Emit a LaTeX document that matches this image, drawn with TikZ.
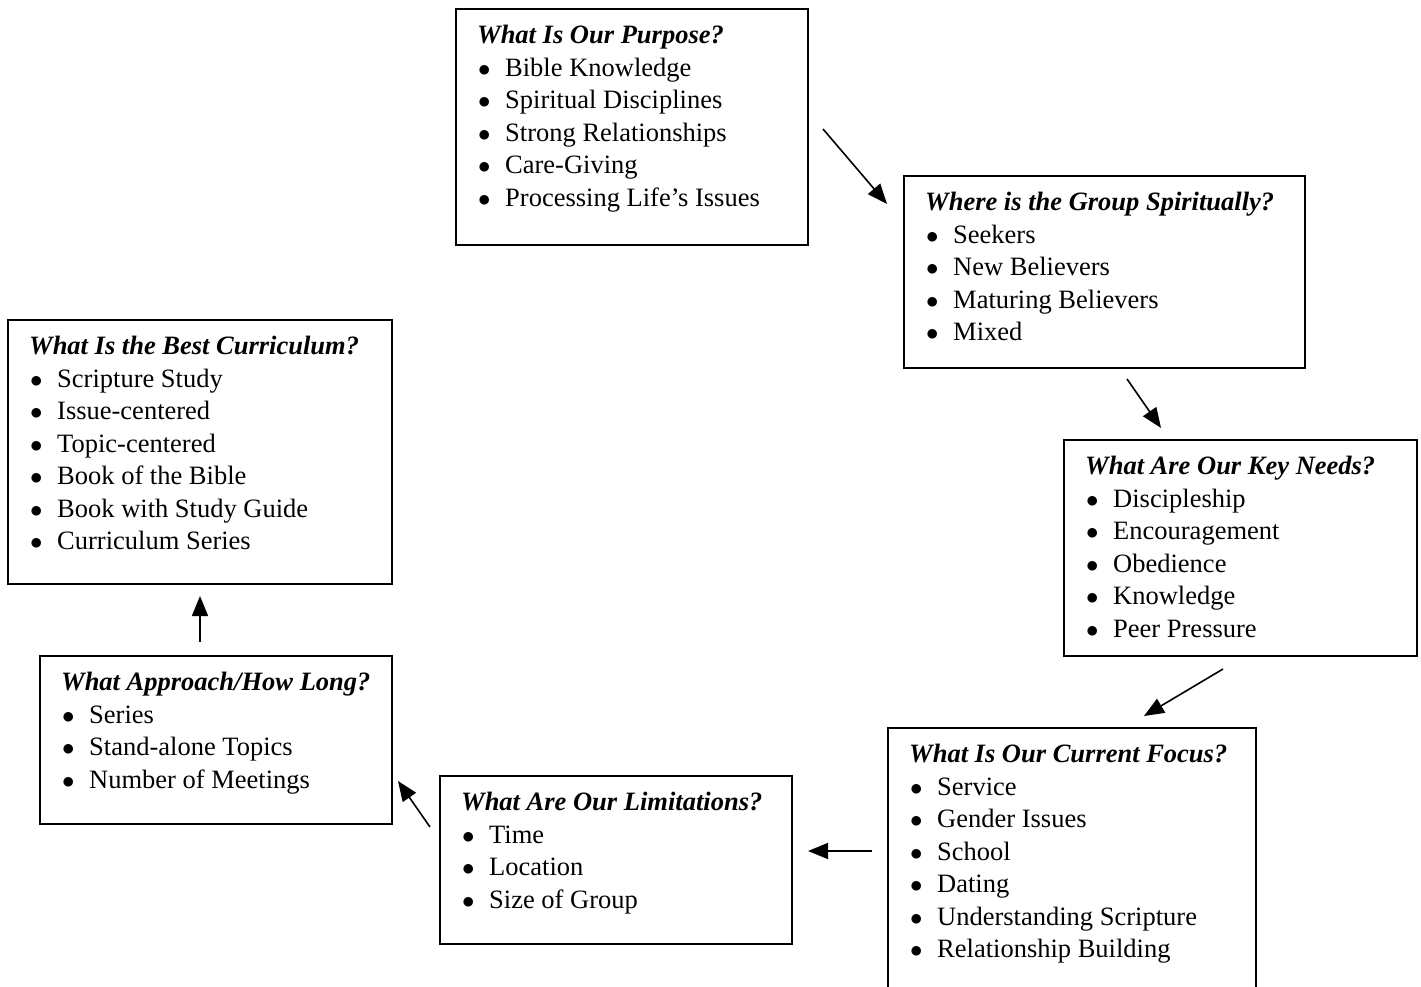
\documentclass[tikz,border=0pt]{standalone}
\usepackage{fontspec}
\setmainfont{Liberation Serif}
\usetikzlibrary{arrows.meta,positioning}

\newcommand{\qtitle}[1]{\strut\textbf{\textit{#1}}}
\newcommand{\itm}[1]{\hspace*{1pt}\makebox[27pt][l]{$\bullet$}#1}

\begin{document}
\begin{tikzpicture}[x=1pt,y=-1pt,
  qbox/.style={draw,line width=1.6pt,rectangle,anchor=north west,inner sep=0pt},
  qtxt/.style={align=left,inner sep=0pt,font=\fontsize{26.5}{32.5}\selectfont},
  flow/.style={line width=1.6pt,-{Triangle[length=20pt,width=16pt]}}]
 	\useasboundingbox (0,0) rectangle (1421,987);
 	% boxes
 	\node[qbox,minimum width=352pt,minimum height=236pt] (purpose) at (455,8) {};
 	\node[qbox,minimum width=401pt,minimum height=192pt] (spirit) at (903,175) {};
 	\node[qbox,minimum width=353pt,minimum height=216pt] (needs) at (1063,439) {};
 	\node[qbox,minimum width=368pt,minimum height=290pt] (focus) at (887,727) {};
 	\node[qbox,minimum width=352pt,minimum height=168pt] (limits) at (439,775) {};
 	\node[qbox,minimum width=352pt,minimum height=168pt] (approach) at (39,655) {};
 	\node[qbox,minimum width=384pt,minimum height=264pt] (curric) at (7,319) {};
 	% texts
 	\node[qtxt,below right=13pt and 22pt of purpose.north west] (purposetxt) {\qtitle{What Is Our Purpose?}\\
 		\itm{Bible Knowledge}\\ \itm{Spiritual Disciplines}\\ \itm{Strong Relationships}\\
 		\itm{Care-Giving}\\ \itm{Processing Life’s Issues}};
 	\node[qtxt,below right=13pt and 22pt of spirit.north west] (spirittxt) {\qtitle{Where is the Group Spiritually?}\\
 		\itm{Seekers}\\ \itm{New Believers}\\ \itm{Maturing Believers}\\ \itm{Mixed}};
 	\node[qtxt,below right=13pt and 22pt of needs.north west] (needstxt) {\qtitle{What Are Our Key Needs?}\\
 		\itm{Discipleship}\\ \itm{Encouragement}\\ \itm{Obedience}\\ \itm{Knowledge}\\ \itm{Peer Pressure}};
 	\node[qtxt,below right=13pt and 22pt of focus.north west] (focustxt) {\qtitle{What Is Our Current Focus?}\\
 		\itm{Service}\\ \itm{Gender Issues}\\ \itm{School}\\ \itm{Dating}\\
 		\itm{Understanding Scripture}\\ \itm{Relationship Building}};
 	\node[qtxt,below right=13pt and 22pt of limits.north west] (limitstxt) {\qtitle{What Are Our Limitations?}\\
 		\itm{Time}\\ \itm{Location}\\ \itm{Size of Group}};
 	\node[qtxt,below right=13pt and 22pt of approach.north west] (approachtxt) {\qtitle{What Approach/How Long?}\\
 		\itm{Series}\\ \itm{Stand-alone Topics}\\ \itm{Number of Meetings}};
 	\node[qtxt,below right=13pt and 22pt of curric.north west] (currictxt) {\qtitle{What Is the Best Curriculum?}\\
 		\itm{Scripture Study}\\ \itm{Issue-centered}\\ \itm{Topic-centered}\\
 		\itm{Book of the Bible}\\ \itm{Book with Study Guide}\\ \itm{Curriculum Series}};
 	% arrows
 	\coordinate (a1) at (823,129); \coordinate (b1) at (887,204);
 	\coordinate (a2) at (1127,379); \coordinate (b2) at (1161,428);
 	\coordinate (a3) at (1223,669); \coordinate (b3) at (1144,716);
 	\coordinate (a4) at (872,851); \coordinate (b4) at (808,851);
 	\coordinate (a5) at (430,827); \coordinate (b5) at (398,781);
 	\coordinate (a6) at (200,642); \coordinate (b6) at (200,596);
 	\draw[flow] (a1) -- (b1);
 	\draw[flow] (a2) -- (b2);
 	\draw[flow] (a3) -- (b3);
 	\draw[flow] (a4) -- (b4);
 	\draw[flow] (a5) -- (b5);
 	\draw[flow] (a6) -- (b6);
\end{tikzpicture}
\end{document}
